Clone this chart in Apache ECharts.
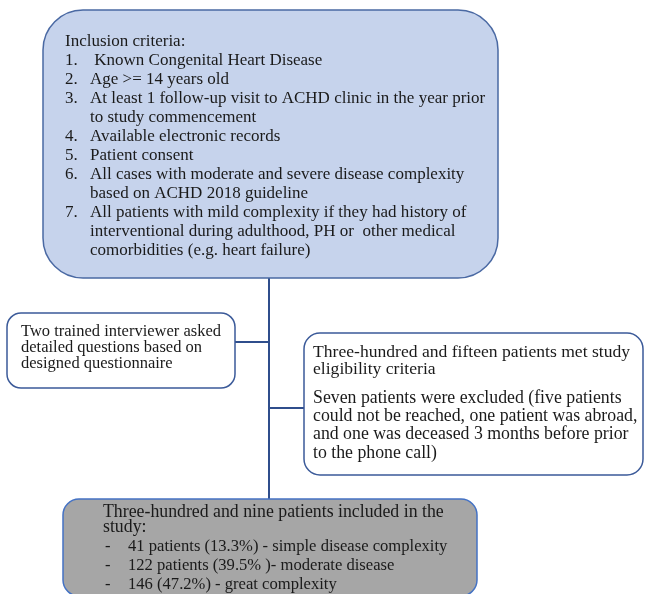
<!DOCTYPE html>
<html><head><meta charset="utf-8">
<script src="https://cdn.jsdelivr.net/npm/echarts@6/dist/echarts.min.js"></script>
<style>html,body{margin:0;padding:0;background:#fff}#c{width:646px;height:594px}</style>
</head><body><div id="c"></div>
<script>
// ---- content ----
const criteriaTitle = "Inclusion criteria:";
const criteriaItems = [
  [" Known Congenital Heart Disease"],
  ["Age >= 14 years old"],
  ["At least 1 follow-up visit to ACHD clinic in the year prior", "to study commencement"],
  ["Available electronic records"],
  ["Patient consent"],
  ["All cases with moderate and severe disease complexity", "based on ACHD 2018 guideline"],
  ["All patients with mild complexity if they had history of", "interventional during adulthood, PH or  other medical", "comorbidities (e.g. heart failure)"]
];
const interviewLines = ["Two trained interviewer asked", "detailed questions based on", "designed questionnaire"];
const eligibleLines = ["Three-hundred and fifteen patients met study", "eligibility criteria"];
const excludedLines = ["Seven patients were excluded (five patients", "could not be reached, one patient was abroad,", "and one was deceased 3 months before prior", "to the phone call)"];
const includedTitle = ["Three-hundred and nine patients included in the", "study:"];
const includedCounts = ["41 patients (13.3%) - simple disease complexity", "122 patients (39.5% )- moderate disease", "146 (47.2%) - great complexity"];

// ---- styles / layout ----
const FONT = '"Liberation Serif","Times New Roman",serif';
const TXT = '#1a1a1a';
const LINE = '#2f4e8c';
const els = [];
function box(x, y, w, h, r, fill, stroke) {
  els.push({type:'rect', shape:{x, y, width:w, height:h, r}, style:{fill, stroke, lineWidth:1.5}, z:1});
}
function line(x1, y1, x2, y2) {
  els.push({type:'line', shape:{x1, y1, x2, y2}, style:{stroke:LINE, lineWidth:2}, z:0});
}
function text(s, x, y, size) {
  els.push({type:'text', x, y, z:5, style:{text:s, fill:TXT, font: size + 'px ' + FONT, textVerticalAlign:'middle', textAlign:'left'}});
}

// connectors
line(269, 278, 269, 500);
line(235, 342, 269, 342);
line(269, 408, 304, 408);

// top box
box(43, 10, 455, 268, 40, '#c6d3ec', '#4a69a3');
text(criteriaTitle, 65, 42, 17);
let li = 1;
criteriaItems.forEach((item, i) => {
  text((i + 1) + '.', 65, 42 + 19 * li, 17);
  item.forEach(s => { text(s, 90, 42 + 19 * li, 17); li++; });
});

// left box
box(7, 313, 228, 75, 14, '#ffffff', '#3b5a99');
interviewLines.forEach((s, i) => text(s, 21, 332 + 16 * i, 16.5));

// right box
box(304, 333, 339, 142, 16, '#ffffff', '#3b5a99');
eligibleLines.forEach((s, i) => text(s, 313, 352 + 17.5 * i, 17.6));
excludedLines.forEach((s, i) => text(s, 313, 398 + 18.3 * i, 17.8));

// bottom box
box(63, 499, 414, 97, 16, '#a6a6a6', '#4472c4');
includedTitle.forEach((s, i) => text(s, 103, 512 + 15.5 * i, 17.8));
includedCounts.forEach((s, i) => {
  text('-', 105, 547 + 19 * i, 16.6);
  text(s, 128, 547 + 19 * i, 16.6);
});

const chart = echarts.init(document.getElementById('c'), null, {renderer:'canvas'});
chart.setOption({animation:false, graphic:{elements: els}});
</script></body></html>
